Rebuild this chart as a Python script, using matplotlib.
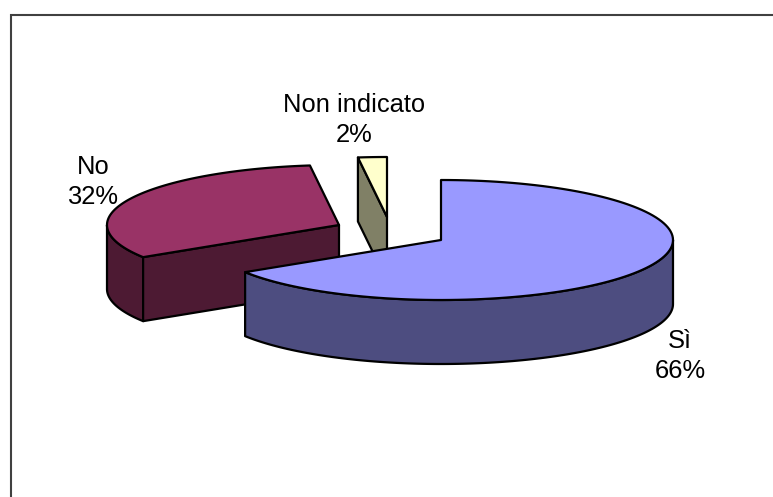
import numpy as np
import matplotlib
matplotlib.use('Agg')
import matplotlib.pyplot as plt
from matplotlib.patches import Polygon

plt.rcParams['font.family'] = ['Liberation Sans', 'DejaVu Sans']

# Risposte e percentuali
categorie = ['Sì', 'No', 'Non indicato']
percentuali = [66, 32, 2]

colori_sopra = ['#9999FF', '#993366', '#FFFFCC']
colori_lato = ['#4D4D80', '#4D1A33', '#808066']

# Centro di ogni fetta (esplosa) in pixel, assi dell'ellisse e spessore
centri = [(441, 240), (339, 225), (387, 217)]
semi_x = 232
semi_y = 60
spessore = 64

# Posizione delle etichette
pos_etichette = [(680, 356), (93, 182), (354, 120)]

W, H = 773, 497
fig = plt.figure(figsize=(W / 100, H / 100), dpi=100)
ax = fig.add_axes([0, 0, 1, 1])
ax.set_xlim(0, W)
ax.set_ylim(H, 0)
ax.axis('off')


# Punti dell'ellisse, angoli in gradi in senso orario dalle ore 12
def arco(centro, da, a, n=120):
    t = np.radians(np.linspace(da, a, n))
    return np.column_stack((centro[0] + semi_x * np.sin(t),
                            centro[1] - semi_y * np.cos(t)))


def poligono(punti, colore, zorder):
    ax.add_patch(Polygon(punti, closed=True, facecolor=colore, edgecolor='black',
                         linewidth=1.6, joinstyle='round', zorder=zorder))


# Disegna una fetta: pareti visibili prima, faccia superiore sopra
def fetta(centro, da, a, col_sopra, col_lato, zorder):
    giu = np.array([0, spessore])

    # parete curva: solo la parte anteriore dell'ellisse (da 90 a 270 gradi)
    ini, fine = max(da, 90), min(a, 270)
    if ini < fine:
        bordo = arco(centro, ini, fine)
        poligono(np.vstack((bordo, bordo[::-1] + giu)), col_lato, zorder)

    # parete di taglio sul lato sinistro, visibile per le fette a sinistra
    if da > 180:
        p = arco(centro, da, da, 1)[0]
        c = np.array(centro, dtype=float)
        poligono(np.array([p, c, c + giu, p + giu]), col_lato, zorder)

    poligono(np.vstack((arco(centro, da, a), [centro])), col_sopra, zorder + 0.5)


angoli = np.concatenate(([0], np.cumsum(percentuali))) * 3.6

# Ordine: prima le fette dietro, ultima quella davanti
for z, i in enumerate([1, 2, 0]):
    fetta(centri[i], angoli[i], angoli[i + 1], colori_sopra[i], colori_lato[i], 2 + z)

for nome, perc, (x, y) in zip(categorie, percentuali, pos_etichette):
    ax.text(x, y, '{}\n{}%'.format(nome, perc), ha='center', va='center',
            fontsize=18.4, color='black', linespacing=1.32, zorder=10)

# Cornice: solo lati superiore e sinistro
ax.plot([11, 11, W], [H, 15, 15], color='#404040', linewidth=1.5, zorder=1,
        solid_joinstyle='miter')

fig.savefig('out.png', dpi=100, facecolor='white')
